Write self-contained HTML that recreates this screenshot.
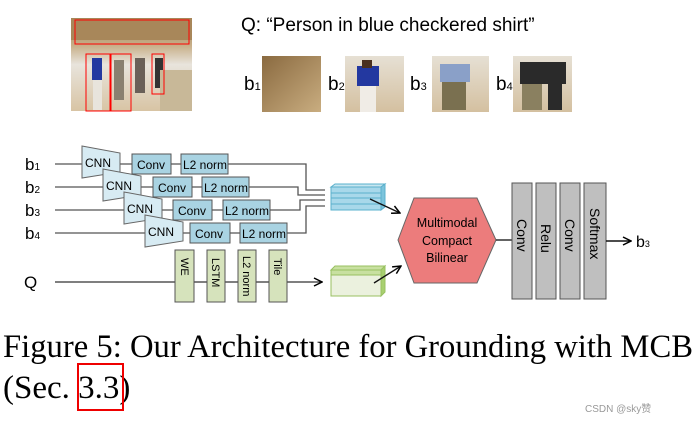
<!DOCTYPE html><html><head><style>
body{margin:0;width:700px;height:422px;background:#fff;overflow:hidden;position:relative;font-family:"Liberation Sans",sans-serif}
.a{position:absolute}
</style></head><body>
<svg class="a" style="left:0;top:0" width="700" height="422" font-family="Liberation Sans, sans-serif">
<defs>
<linearGradient id="ph" x1="0" y1="0" x2="0" y2="1"><stop offset="0" stop-color="#9a7a50"/><stop offset=".3" stop-color="#c8b08a"/><stop offset=".5" stop-color="#e8e4dc"/><stop offset="1" stop-color="#d8c4a4"/></linearGradient>
<linearGradient id="wd" x1="0" y1="0" x2="1" y2="1"><stop offset="0" stop-color="#8a6a40"/><stop offset="1" stop-color="#c9ad80"/></linearGradient>
<linearGradient id="sd" x1="0" y1="0" x2="0" y2="1"><stop offset="0" stop-color="#e6e0d4"/><stop offset="1" stop-color="#d4c0a0"/></linearGradient>
<marker id="ar" markerWidth="10" markerHeight="10" refX="9" refY="5" orient="auto" markerUnits="userSpaceOnUse"><path d="M1,1 L9,5 L1,9" fill="none" stroke="#000" stroke-width="1.5"/></marker>
</defs>
<rect x="71" y="18" width="121" height="93" fill="url(#ph)"/>
<rect x="71" y="18" width="121" height="22" fill="#a8875a"/>
<rect x="92" y="58" width="10" height="22" fill="#2338a0"/>
<rect x="93" y="80" width="9" height="30" fill="#e8e4dc"/>
<rect x="114" y="60" width="10" height="40" fill="#8a8070"/>
<rect x="135" y="58" width="10" height="35" fill="#6a6058"/>
<rect x="155" y="58" width="8" height="30" fill="#333"/>
<rect x="160" y="70" width="32" height="41" fill="#c8b898"/>
<rect x="75" y="20" width="114" height="24" fill="none" stroke="#f00" stroke-width="1"/>
<rect x="86" y="54" width="24" height="57" fill="none" stroke="#f00" stroke-width="1"/>
<rect x="111" y="54" width="20" height="57" fill="none" stroke="#f00" stroke-width="1"/>
<rect x="152" y="54" width="12" height="40" fill="none" stroke="#f00" stroke-width="1"/>
<text x="241" y="31" font-size="19">Q: “Person in blue checkered shirt”</text>
<rect x="262" y="56" width="59" height="56" fill="url(#wd)"/>
<rect x="345" y="56" width="59" height="56" fill="url(#sd)"/>
<rect x="357" y="66" width="22" height="20" fill="#2338a0"/><rect x="362" y="60" width="10" height="8" fill="#4a3020"/><rect x="360" y="86" width="16" height="26" fill="#f0ece6"/>
<rect x="432" y="56" width="57" height="56" fill="url(#sd)"/>
<rect x="440" y="64" width="30" height="18" fill="#8aa0c8"/><rect x="442" y="82" width="24" height="28" fill="#7a7050"/>
<rect x="513" y="56" width="59" height="56" fill="url(#sd)"/>
<rect x="520" y="62" width="46" height="22" fill="#2a2a2a"/><rect x="522" y="84" width="20" height="26" fill="#8a8060"/><rect x="548" y="84" width="14" height="26" fill="#2a2a2a"/>
<g font-size="19"><text x="244" y="90">b<tspan font-size="11">1</tspan></text><text x="328" y="90">b<tspan font-size="11">2</tspan></text><text x="410" y="90">b<tspan font-size="11">3</tspan></text><text x="496" y="90">b<tspan font-size="11">4</tspan></text></g>
<g stroke="#555" stroke-width="1.3" fill="none">
<path d="M55,164 H306 V190 H325"/>
<path d="M55,187 H298 V195 H325"/>
<path d="M55,210 H300 V200 H325"/>
<path d="M55,233 H306 V206 H325"/>
</g>
<line x1="55" y1="282" x2="322" y2="282" stroke="#333" stroke-width="1.3" marker-end="url(#ar)"/>
<g font-size="17"><text x="25" y="170">b<tspan font-size="10">1</tspan></text><text x="25" y="193">b<tspan font-size="10">2</tspan></text><text x="25" y="216">b<tspan font-size="10">3</tspan></text><text x="25" y="239">b<tspan font-size="10">4</tspan></text><text x="24" y="288" font-size="17">Q</text></g>
<g fill="#d7ebf3" stroke="#666" stroke-width="1" font-size="12">
<g><path d="M82,146 L120,153 L120,172 L82,178Z"/><text x="85" y="167" stroke="none" fill="#000">CNN</text></g>
<g transform="translate(21,23)"><path d="M82,146 L120,153 L120,172 L82,178Z"/><text x="85" y="167" stroke="none" fill="#000">CNN</text></g>
<g transform="translate(42,46)"><path d="M82,146 L120,153 L120,172 L82,178Z"/><text x="85" y="167" stroke="none" fill="#000">CNN</text></g>
<g transform="translate(63,69)"><path d="M82,146 L120,153 L120,172 L82,178Z"/><text x="85" y="167" stroke="none" fill="#000">CNN</text></g>
</g>
<g fill="#a9d3e2" stroke="#555" stroke-width="1">
<rect x="132" y="154" width="39" height="20"/><rect x="181" y="154" width="47" height="20"/>
<rect x="153" y="177" width="39" height="20"/><rect x="202" y="177" width="47" height="20"/>
<rect x="173" y="200" width="39" height="20"/><rect x="223" y="200" width="47" height="20"/>
<rect x="190" y="223" width="40" height="20"/><rect x="240" y="223" width="47" height="20"/>
</g>
<g font-size="12"><text x="137" y="169">Conv</text><text x="183" y="169">L2 norm</text>
<text x="158" y="192">Conv</text><text x="204" y="192">L2 norm</text>
<text x="178" y="215">Conv</text><text x="225" y="215">L2 norm</text>
<text x="195" y="238">Conv</text><text x="242" y="238">L2 norm</text></g>
<g fill="#d6e3bc" stroke="#555" stroke-width="1">
<rect x="175" y="250" width="19" height="52"/><rect x="207" y="250" width="18" height="52"/><rect x="238" y="250" width="18" height="52"/><rect x="269" y="250" width="18" height="52"/>
</g>
<g font-size="11">
<text transform="translate(181,258) rotate(90)">WE</text>
<text transform="translate(212,258) rotate(90)">LSTM</text>
<text transform="translate(243,256) rotate(90)">L2 norm</text>
<text transform="translate(274,258) rotate(90)">Tile</text>
</g>
<g stroke="#5ab0cc" stroke-width="1">
<path d="M331,187 L335,184 H385 L381,187Z" fill="#c7e6f0"/>
<path d="M381,187 L385,184 V207 L381,210Z" fill="#7cc4dc"/>
<rect x="331" y="187" width="50" height="23" fill="#a8d8ea"/>
<line x1="331" y1="193" x2="381" y2="193"/><line x1="331" y1="198" x2="381" y2="198"/><line x1="331" y1="204" x2="381" y2="204"/>
</g>
<g stroke="#98c060" stroke-width="1">
<path d="M331,270 L335,266 H385 L381,270Z" fill="#c8e0a0"/>
<path d="M381,270 L385,266 V292 L381,296Z" fill="#a8d070"/>
<rect x="331" y="270" width="50" height="26" fill="#ebf1de"/>
<rect x="331" y="270" width="50" height="5" fill="#c8e0a0"/>
</g>
<line x1="370" y1="199" x2="400" y2="213" stroke="#111" stroke-width="1.4" marker-end="url(#ar)"/>
<line x1="374" y1="283" x2="401" y2="266" stroke="#111" stroke-width="1.4" marker-end="url(#ar)"/>
<path d="M398,240 L414,198 L477,198 L496,240 L477,283 L414,283Z" fill="#ec7c7c" stroke="#666" stroke-width="1"/>
<g font-size="12.5" text-anchor="middle"><text x="447" y="227">Multimodal</text><text x="447" y="245">Compact</text><text x="447" y="262">Bilinear</text></g>
<line x1="496" y1="240" x2="512" y2="240" stroke="#111" stroke-width="1.3"/>
<g fill="#bfbfbf" stroke="#555" stroke-width="1">
<rect x="512" y="183" width="20" height="116"/><rect x="536" y="183" width="20" height="116"/><rect x="560" y="183" width="20" height="116"/><rect x="584" y="183" width="22" height="116"/>
</g>
<g font-size="14">
<text transform="translate(517,219) rotate(90)">Conv</text>
<text transform="translate(541,224) rotate(90)">Relu</text>
<text transform="translate(565,219) rotate(90)">Conv</text>
<text transform="translate(590,208) rotate(90)">Softmax</text>
</g>
<line x1="606" y1="241" x2="631" y2="241" stroke="#111" stroke-width="1.4" marker-end="url(#ar)"/>
<text x="636" y="247" font-size="16">b<tspan font-size="9">3</tspan></text>
<g font-family="Liberation Serif, serif" font-size="33">
<text x="3" y="357" textLength="690" lengthAdjust="spacingAndGlyphs">Figure 5: Our Architecture for Grounding with MCB</text>
<text x="3" y="398">(Sec. 3.3)</text>
</g>
<rect x="78" y="364" width="45" height="46" fill="none" stroke="#e00" stroke-width="2"/>
<text x="585" y="412" font-size="10" fill="#999" font-family="Liberation Sans, Noto Sans CJK SC, sans-serif">CSDN @sky赞</text>
</svg>
</body></html>
